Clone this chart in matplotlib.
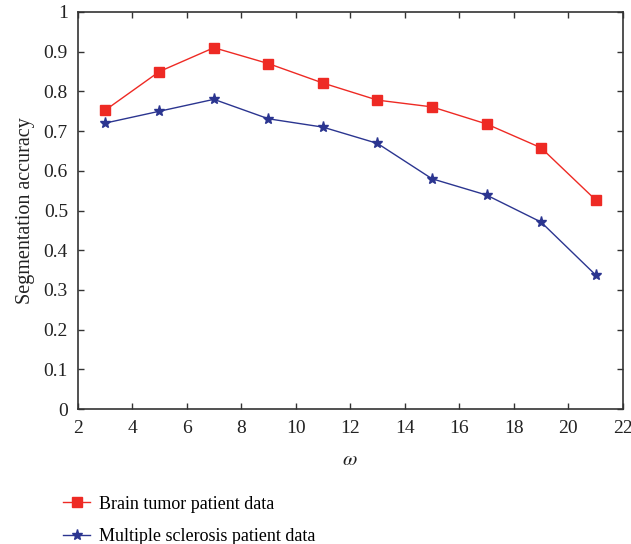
import numpy as np
import matplotlib
matplotlib.use('Agg')
import matplotlib.pyplot as plt
from matplotlib.ticker import MultipleLocator

plt.rcParams['font.family'] = ['Liberation Serif', 'DejaVu Serif']
plt.rcParams['mathtext.fontset'] = 'stix'

# --- data --- #
omega = [3, 5, 7, 9, 11, 13, 15, 17, 19, 21]
brain_tumor = [0.752, 0.850, 0.910, 0.870, 0.821, 0.778, 0.761, 0.718, 0.658, 0.527]
mult_scler = [0.720, 0.750, 0.780, 0.731, 0.710, 0.669, 0.580, 0.539, 0.471, 0.338]

fig = plt.figure(figsize=(6.31, 5.44), dpi=100)
ax1 = fig.add_axes([0.123, 0.248, 0.864, 0.730])

ax1.plot(omega, brain_tumor, '-', color='#ee2a24', lw=1, marker='s', ms=7,
         label='Brain tumor patient data')
ax1.plot(omega, mult_scler, '-', color='#2b3590', lw=1, marker='*', ms=8,
         label='Multiple sclerosis patient data')

# limits
ax1.set_xlim(2, 22)
ax1.set_ylim(0, 1)

# ticks
ax1.xaxis.set_major_locator(MultipleLocator(2))
ax1.set_yticks(np.arange(0, 1.01, 0.1))
ax1.set_yticklabels(['0'] + ['%.1f' % v for v in np.arange(0.1, 0.95, 0.1)] + ['1'])
ax1.tick_params(direction='in', top=True, right=True, length=4, width=1,
                labelsize=14, colors='#333333', labelcolor='#222222')
ax1.tick_params(axis='x', pad=8)
ax1.tick_params(axis='y', pad=7)
for s in ax1.spines.values():
    s.set_color('#333333')
    s.set_linewidth(1.2)

# labels
ax1.set_ylabel('Segmentation accuracy', fontsize=14.5, color='#222222', labelpad=6)
ax1.set_xlabel(r'$\omega$', fontsize=15, color='#222222', labelpad=10)

# legend
ax1.legend(loc='upper left', bbox_to_anchor=(-0.04, -0.2), frameon=False,
           fontsize=13, handlelength=1.5, handletextpad=0.5,
           labelspacing=0.85, borderaxespad=0)

fig.savefig('out.png', dpi=100)
